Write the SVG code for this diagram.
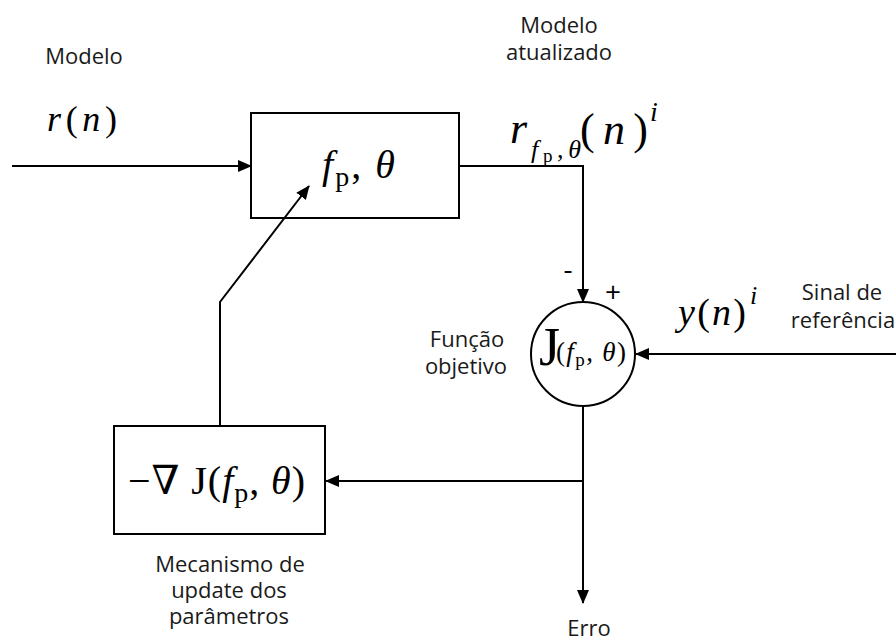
<svg xmlns="http://www.w3.org/2000/svg" width="896" height="642" viewBox="0 0 896 642">
<style>
.lbl{font-family:"Open Sans","Liberation Sans",sans-serif;font-size:22px;fill:#1a1a1a;text-anchor:middle}
.sg{font-family:"Open Sans","Liberation Sans",sans-serif;font-size:28px;fill:#000;text-anchor:middle}
.m{font-family:"Liberation Serif","DejaVu Serif",serif;fill:#000}
.i{font-style:italic}
.ln{fill:none;stroke:#000;stroke-width:2}
.nd{fill:#fff;stroke:#000;stroke-width:2}
</style>
<defs>
<marker id="ah" markerUnits="userSpaceOnUse" markerWidth="14" markerHeight="12" refX="13" refY="6" orient="auto">
<path d="M0,0 L14,6 L0,12 z" fill="#000"/>
</marker>
</defs>
<rect width="896" height="642" fill="#fff"/>
<g id="model-block">
<rect class="nd" x="251" y="113" width="208" height="105"/>
<text class="m" x="322" y="178" font-size="40" textLength="73" lengthAdjust="spacing"><tspan class="i">f</tspan><tspan font-size="28" dy="8">p</tspan><tspan dy="-8">, </tspan><tspan class="i">θ</tspan></text>
</g>
<g id="objective">
<circle class="nd" cx="583" cy="354" r="52"/>
<text class="m" x="539" y="365" font-size="54">J</text>
<text class="m" x="556" y="361" font-size="27" textLength="70" lengthAdjust="spacing">(<tspan class="i">f</tspan><tspan font-size="19" dy="5">p</tspan><tspan dy="-5">, </tspan><tspan class="i">θ</tspan>)</text>
</g>
<g id="gradient-block">
<rect class="nd" x="114" y="426" width="211" height="108"/>
<text class="m" x="128" y="494" font-size="40" textLength="177" lengthAdjust="spacing">−∇ J(<tspan class="i">f</tspan><tspan font-size="28" dy="8">p</tspan><tspan dy="-8">, </tspan><tspan class="i">θ</tspan>)</text>
</g>
<g id="connectors">
<path class="ln" d="M12,166 H251" marker-end="url(#ah)"/>
<path class="ln" d="M459,166 H583 V302" marker-end="url(#ah)"/>
<path class="ln" d="M896,354 H636" marker-end="url(#ah)"/>
<path class="ln" d="M583,406 V603" marker-end="url(#ah)"/>
<path class="ln" d="M583,481 H326" marker-end="url(#ah)"/>
<path class="ln" d="M220,426 V302 L309,186" marker-end="url(#ah)"/>
</g>
<g id="labels">
<text class="lbl" x="84" y="64">Modelo</text>
<text class="m" x="47" y="131" font-size="36" textLength="70" lengthAdjust="spacing"><tspan class="i">r</tspan>(<tspan class="i">n</tspan>)</text>
<text class="lbl" x="559" y="33">Modelo</text>
<text class="lbl" x="559" y="60">atualizado</text>
<text class="m" x="510" y="143" font-size="44"><tspan class="i">r</tspan></text>
<text class="m" x="531" y="158" font-size="26" textLength="50" lengthAdjust="spacing"><tspan class="i">f</tspan><tspan font-size="19" dy="4">p</tspan><tspan dy="-4">,</tspan><tspan class="i">θ</tspan></text>
<text class="m" x="580" y="144" font-size="44" textLength="68" lengthAdjust="spacing">(<tspan class="i">n</tspan>)</text>
<text class="m i" x="650" y="121" font-size="28">i</text>
<text class="sg" x="568" y="279">-</text>
<text class="sg" x="613" y="302">+</text>
<text class="m" x="678" y="325" font-size="38" textLength="68" lengthAdjust="spacing"><tspan class="i">y</tspan>(<tspan class="i">n</tspan>)</text>
<text class="m i" x="750" y="304" font-size="26">i</text>
<text class="lbl" x="842" y="300">Sinal de</text>
<text class="lbl" x="843" y="328">referência</text>
<text class="lbl" x="467" y="347">Função</text>
<text class="lbl" x="466" y="374">objetivo</text>
<text class="lbl" x="230" y="572">Mecanismo de</text>
<text class="lbl" x="229" y="598">update dos</text>
<text class="lbl" x="229" y="624">parâmetros</text>
<text class="lbl" x="589" y="636">Erro</text>
</g>
</svg>
